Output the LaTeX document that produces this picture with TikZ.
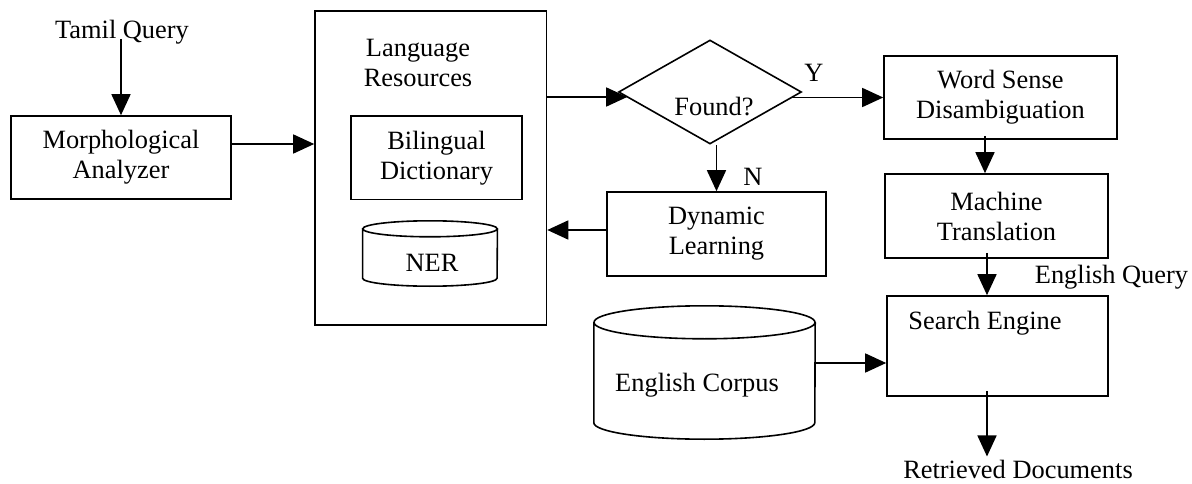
\documentclass[tikz,border=0pt]{standalone}
\usepackage{fontspec}
\setmainfont{Liberation Serif}
\usetikzlibrary{arrows.meta,shapes.geometric,calc}
\newcommand\mycyl[3]{%
  \draw[line width=1.6pt] ($(#1.north)+(0,#3)$) ellipse [x radius=#2pt, y radius=#3pt]
    ($(#1.north west)+(0,#3)$) -- ($(#1.south west)+(0,-#3)$)
    arc[start angle=180,end angle=360,x radius=#2pt,y radius=#3pt]
    -- ($(#1.north east)+(0,#3)$);}
\begin{document}
\begin{tikzpicture}[x=1pt,y=-1pt,
  every node/.style={font=\fontsize{26.4}{30}\selectfont, inner sep=0pt, align=center},
  box/.style={draw, line width=1.6pt},
  arr/.style={line width=1.6pt, -{Triangle[length=21pt,width=19pt]}}]
\useasboundingbox (0,0) rectangle (1192,484);
% nodes
\node[box, minimum width=220pt, minimum height=83pt] (mo) at (121,157.5) {Morphological\\Analyzer};
\node[anchor=base] (tq) at (122,39) {Tamil Query};
\node[box, minimum width=231.5pt, minimum height=314pt] (lr) at (430.75,168) {};
\node (lrt) at (418,62.5) {Language\\Resources};
\node[box, minimum width=171pt, minimum height=83.5pt] (bd) at (436.5,157.75) {Bilingual\\Dictionary};
\node[minimum width=134.5pt, minimum height=65pt] (ner) at (430,253.5) {};
\mycyl{ner}{67.25}{8}
\node (nert) at (432,263) {NER};
\node[diamond, draw, line width=1.6pt, minimum width=183pt, minimum height=104pt] (fd) at (710,92) {};
\node (fdt) at (714,107) {Found?};
\node (yl) at (814,73) {Y};
\node (nl) at (753,177) {N};
\node[box, minimum width=219pt, minimum height=84pt] (dl) at (716.5,234) {Dynamic\\Learning};
\node[box, minimum width=233pt, minimum height=83pt] (ws) at (1000.5,97.5) {Word Sense\\Disambiguation};
\node[box, minimum width=223pt, minimum height=84pt] (mt) at (996.5,216) {Machine\\Translation};
\node (eq) at (1111.5,277) {English Query};
\node[box, minimum width=221pt, minimum height=100pt] (se) at (997.5,346) {};
\node (set) at (985,323) {Search Engine};
\node[minimum width=221pt, minimum height=133pt] (ec) at (704.5,372.5) {};
\mycyl{ec}{110.5}{16.5}
\node (ect) at (697,385) {English Corpus};
\node[anchor=base] (rd) at (1018,478) {Retrieved Documents};
% helper coordinates
\coordinate (fdin) at ([xshift=9.5pt]fd.west);
\coordinate (fdr) at ([xshift=-10pt]fd.east);
\coordinate (rdt) at ([yshift=3pt]rd.north);
% connectors
\draw[arr] (tq.base -| mo.north) -- (mo.north);
\draw[arr] ([yshift=13.5pt]mo.east) coordinate (a1) -- (a1 -| lr.west);
\draw[arr] ([yshift=71pt]lr.east) coordinate (a2) -- (a2 -| fdin);
\draw[arr] (fdr |- ws.west) -- (ws.west);
\draw[arr] (fd.south -| dl.north) -- (dl.north);
\draw[arr] ([yshift=4pt]dl.west) coordinate (a7) -- (a7 -| lr.east);
\draw[arr] ([xshift=-15.5pt,yshift=4pt]ws.south) coordinate (a3) -- (a3 |- mt.north);
\draw[arr] ([xshift=-9.5pt,yshift=6pt]mt.south) coordinate (a4) -- (a4 |- se.north);
\draw[arr] ([yshift=9.5pt]ec.east) coordinate (a5) -- (a5 -| se.west);
\draw[arr] ([xshift=-10.5pt,yshift=6pt]se.south) coordinate (a6) -- (a6 |- rdt);
\end{tikzpicture}
\end{document}
